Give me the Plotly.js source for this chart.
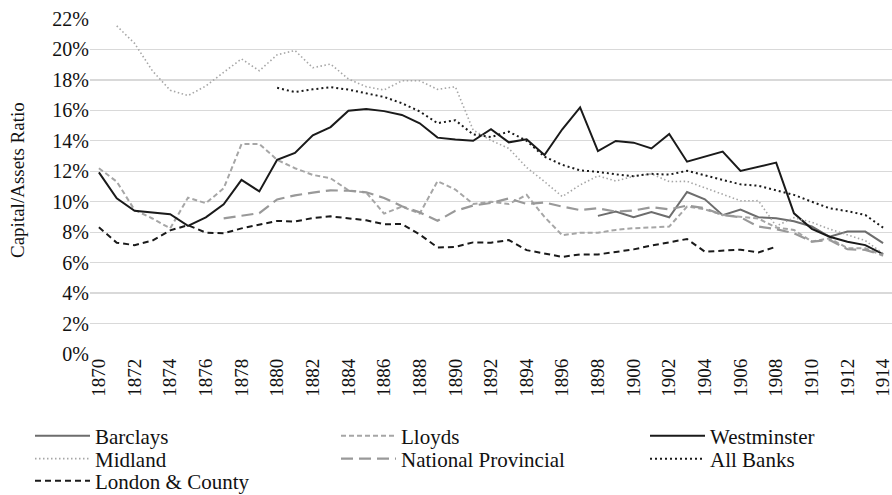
<!DOCTYPE html>
<html>
<head>
<meta charset="utf-8">
<script src="https://cdn.plot.ly/plotly-3.0.1.min.js"></script>
<style>html,body{margin:0;padding:0;background:#fff;}#chart{width:892px;height:495px;}</style>
</head>
<body>
<div id="chart"></div>
<script>
// Years 1870-1914
const years = [1870,1871,1872,1873,1874,1875,1876,1877,1878,1879,
               1880,1881,1882,1883,1884,1885,1886,1887,1888,1889,
               1890,1891,1892,1893,1894,1895,1896,1897,1898,1899,
               1900,1901,1902,1903,1904,1905,1906,1907,1908,1909,
               1910,1911,1912,1913,1914];
const tickYears = [1870,1872,1874,1876,1878,1880,1882,1884,1886,1888,1890,1892,1894,1896,1898,1900,1902,1904,1906,1908,1910,1912,1914];
const yTicks = [0,2,4,6,8,10,12,14,16,18,20,22];

// Capital/Assets ratio, percent
const barclays = [null,null,null,null,null,null,null,null,null,null,
                  null,null,null,null,null,null,null,null,null,null,
                  null,null,null,null,null,null,null,null,9.07,9.35,
                  8.98,9.33,8.98,10.64,10.16,9.12,9.48,8.98,8.91,8.72,
                  8.37,7.7,8.04,8.04,7.28];
const lloyds = [12.2,11.32,9.46,8.9,8.25,10.27,9.9,10.88,13.78,13.8,
                12.75,12.2,11.76,11.54,10.75,10.6,9.22,9.68,9.22,11.35,
                10.8,9.85,10.0,9.85,10.45,9.0,7.8,7.96,7.96,8.15,
                8.26,8.3,8.37,9.68,9.5,9.13,9.02,8.9,8.3,8.15,
                7.38,7.6,6.95,6.95,6.45];
const westminster = [11.93,10.22,9.41,9.29,9.18,8.42,8.97,9.83,11.43,10.68,
                     12.75,13.2,14.36,14.9,15.97,16.09,15.95,15.7,15.15,14.21,
                     14.08,14.0,14.76,13.9,14.1,13.07,14.76,16.19,13.33,13.99,
                     13.88,13.5,14.45,12.63,12.96,13.29,12.02,12.28,12.57,9.24,
                     8.22,7.7,7.37,7.15,6.56];
const midland = [null,21.55,20.4,18.6,17.32,16.97,17.6,18.5,19.38,18.6,
                 19.65,19.93,18.8,19.04,18.06,17.55,17.34,17.94,17.94,17.38,
                 17.55,14.7,14.03,13.5,12.25,11.32,10.34,11.1,11.7,11.36,
                 11.67,11.83,11.32,11.34,10.9,10.5,10.06,10.07,8.4,8.95,
                 8.65,8.2,7.85,7.45,6.6];
const nationalProvincial = [null,null,null,null,null,null,null,8.91,9.1,9.25,
                            10.15,10.42,10.6,10.75,10.72,10.62,10.25,9.7,9.3,8.75,
                            9.4,9.75,9.92,10.22,9.85,9.95,9.68,9.45,9.57,9.35,
                            9.42,9.64,9.5,9.75,9.57,9.13,8.98,8.37,8.2,7.93,
                            7.38,7.49,6.88,6.84,6.5];
const allBanks = [null,null,null,null,null,null,null,null,null,null,
                  17.48,17.2,17.38,17.52,17.36,17.1,16.88,16.47,15.93,15.16,
                  15.35,14.42,14.25,14.6,14.0,12.96,12.42,12.06,11.96,11.8,
                  11.68,11.83,11.78,12.03,11.73,11.42,11.14,11.05,10.77,10.45,
                  10.0,9.57,9.38,9.13,8.3];
const londonCounty = [8.32,7.31,7.15,7.45,8.12,8.46,7.97,7.93,8.25,8.5,
                      8.74,8.7,8.93,9.04,8.93,8.78,8.52,8.54,7.85,7.0,
                      7.03,7.33,7.31,7.48,6.82,6.62,6.38,6.54,6.54,6.7,
                      6.87,7.12,7.33,7.55,6.72,6.78,6.85,6.67,7.05,null,
                      null,null,null,null,null];

const FONT = 'Liberation Serif';
const TXT = '#111111';

function mk(name, y, color, width, dash, legend) {
  return {type:'scatter', mode:'lines', name:name, x:years, y:y,
          line:{color:color, width:width, dash:dash}, legend:legend,
          connectgaps:false, hoverinfo:'skip'};
}

// one legend per entry, placed in a 3-column grid
const traces = [
  mk('Barclays', barclays, '#6d6d6d', 2, 'solid', 'legend'),
  mk('Lloyds', lloyds, '#a6a6a6', 2, '5px,3px', 'legend2'),
  mk('Westminster', westminster, '#1a1a1a', 2, 'solid', 'legend3'),
  mk('Midland', midland, '#a6a6a6', 1.6, '1.5px,2.5px', 'legend4'),
  mk('National Provincial', nationalProvincial, '#999999', 2.2, '12px,6px', 'legend5'),
  mk('All Banks', allBanks, '#1a1a1a', 2, '2px,3px', 'legend6'),
  mk('London &amp; County', londonCounty, '#1a1a1a', 2, '6px,4px', 'legend7')
];

const colX = [30, 336, 645];
const rowY = [436, 459, 481];
function leg(col, row) {
  return {xref:'container', yref:'container', x:colX[col]/892, y:1-rowY[row]/495,
          xanchor:'left', yanchor:'middle', orientation:'v', tracegroupgap:0,
          itemwidth:55, bgcolor:'rgba(0,0,0,0)', borderwidth:0,
          font:{family:FONT, size:21, color:TXT}};
}

const layout = {
  width:892, height:495,
  margin:{l:90, r:0, t:19, b:141, pad:0, autoexpand:false},
  paper_bgcolor:'#ffffff', plot_bgcolor:'#ffffff',
  font:{family:FONT, size:20, color:TXT},
  showlegend:true,
  legend: leg(0,0), legend2: leg(1,0), legend3: leg(2,0),
  legend4: leg(0,1), legend5: leg(1,1), legend6: leg(2,1),
  legend7: leg(0,2),
  xaxis:{range:[1869.5,1914.5], tickmode:'array', tickvals:tickYears,
         ticktext:tickYears.map(String), tickangle:-90, automargin:false,
         ticklabeloverflow:'allow',
         showgrid:false, zeroline:false, showline:false, ticks:'',
         tickfont:{family:FONT, size:19, color:TXT}, fixedrange:true},
  yaxis:{range:[0,22], tickmode:'array', tickvals:yTicks, automargin:false,
         ticktext:yTicks.map(v => v + '%'),
         showgrid:true, gridcolor:'#d9d9d9', gridwidth:1.3,
         zeroline:false, showline:false, ticks:'',
         tickfont:{family:FONT, size:20, color:TXT}, fixedrange:true},
  annotations:[{text:'Capital/Assets Ratio', xref:'paper', yref:'paper',
                x:(17-90)/802, y:(354-180)/335, xanchor:'center', yanchor:'middle',
                textangle:-90, showarrow:false,
                font:{family:FONT, size:19, color:TXT}}]
};

Plotly.newPlot('chart', traces, layout, {staticPlot:true, displayModeBar:false});
</script>
</body>
</html>
